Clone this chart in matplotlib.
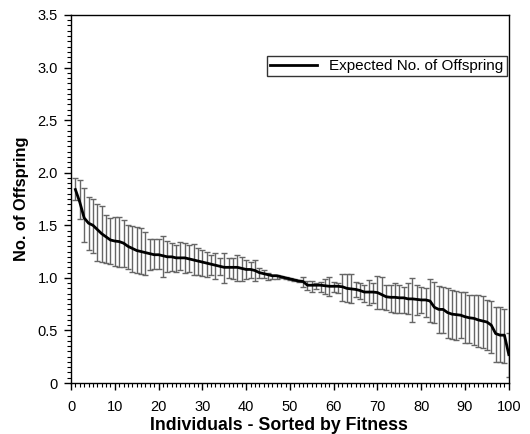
import numpy as np
import matplotlib.pyplot as plt
from matplotlib.ticker import MultipleLocator, FuncFormatter

plt.rcParams['font.family'] = ['Liberation Sans', 'DejaVu Sans']

# individuals 1..100 sorted by fitness
individual = np.arange(1, 101)

expected = [1.84, 1.72, 1.57, 1.52, 1.50, 1.46, 1.42, 1.39, 1.36, 1.35,
            1.345, 1.33, 1.30, 1.28, 1.26, 1.25, 1.24, 1.23, 1.22, 1.22,
            1.21, 1.20, 1.20, 1.19, 1.19, 1.19, 1.18, 1.17, 1.16, 1.15,
            1.14, 1.13, 1.12, 1.11, 1.10, 1.10, 1.10, 1.10, 1.09, 1.08,
            1.08, 1.07, 1.05, 1.04, 1.03, 1.02, 1.02, 1.01, 1.00, 0.99,
            0.98, 0.97, 0.965, 0.93, 0.93, 0.93, 0.93, 0.925, 0.92, 0.92,
            0.92, 0.915, 0.90, 0.895, 0.89, 0.88, 0.865, 0.865, 0.865, 0.86,
            0.84, 0.82, 0.815, 0.815, 0.81, 0.81, 0.80, 0.80, 0.795, 0.79,
            0.79, 0.78, 0.72, 0.70, 0.70, 0.67, 0.655, 0.65, 0.645, 0.63,
            0.62, 0.615, 0.60, 0.59, 0.58, 0.55, 0.47, 0.455, 0.455, 0.27]

upper = [1.95, 1.93, 1.85, 1.77, 1.75, 1.70, 1.68, 1.60, 1.57, 1.58,
         1.58, 1.55, 1.50, 1.49, 1.48, 1.47, 1.44, 1.37, 1.37, 1.37,
         1.40, 1.35, 1.33, 1.31, 1.345, 1.33, 1.31, 1.32, 1.28, 1.265,
         1.25, 1.22, 1.24, 1.19, 1.24, 1.19, 1.19, 1.22, 1.20, 1.17,
         1.15, 1.17, 1.09, 1.07, 1.045, 1.03, 1.03, 1.02, 1.01, 1.00,
         0.99, 0.98, 1.01, 0.974, 0.97, 0.95, 0.965, 0.99, 1.01, 0.965,
         0.955, 1.037, 1.037, 1.037, 0.965, 0.955, 0.932, 0.98, 0.948, 1.02,
         1.01, 0.932, 0.932, 0.955, 0.932, 0.917, 0.955, 0.996, 0.932, 0.917,
         0.90, 0.986, 0.964, 0.923, 0.917, 0.90, 0.885, 0.879, 0.869, 0.869,
         0.837, 0.837, 0.837, 0.828, 0.79, 0.784, 0.72, 0.72, 0.70, 0.48]

lower = [1.74, 1.56, 1.345, 1.265, 1.24, 1.16, 1.15, 1.145, 1.13, 1.11,
         1.10, 1.10, 1.08, 1.06, 1.05, 1.04, 1.03, 1.075, 1.08, 1.08,
         1.005, 1.06, 1.065, 1.06, 1.075, 1.05, 1.053, 1.028, 1.028, 1.02,
         1.01, 1.028, 0.987, 1.028, 0.948, 0.996, 0.99, 0.974, 0.97, 0.987,
         0.996, 0.97, 1.00, 1.00, 0.98, 0.99, 0.99, 1.00, 0.99, 0.98,
         0.97, 0.96, 0.917, 0.885, 0.87, 0.89, 0.869, 0.847, 0.83, 0.869,
         0.86, 0.78, 0.774, 0.758, 0.815, 0.796, 0.774, 0.742, 0.764, 0.70,
         0.70, 0.694, 0.679, 0.669, 0.663, 0.663, 0.657, 0.584, 0.647, 0.663,
         0.625, 0.584, 0.574, 0.472, 0.472, 0.425, 0.415, 0.409, 0.425, 0.384,
         0.384, 0.361, 0.345, 0.33, 0.314, 0.282, 0.203, 0.203, 0.194, 0.06]

expected = np.array(expected)
yerr = [expected - np.array(lower), np.array(upper) - expected]

fig = plt.figure(figsize=(5.3, 4.34), dpi=100)
ax = fig.add_axes([0.134, 0.1175, 0.826, 0.848])

eb = ax.errorbar(individual, expected, yerr=yerr, fmt='none',
                 ecolor='#666666', elinewidth=1.0, capsize=2.0,
                 capthick=1.0, zorder=2)
for cap in eb[1]:
    cap.set_color('#111111')

ax.plot(individual, expected, color='black', lw=2.0, zorder=3,
        label='Expected No. of Offspring')

ax.set_xlim(0, 100)
ax.set_ylim(0, 3.5)
ax.xaxis.set_major_locator(MultipleLocator(10))
ax.xaxis.set_minor_locator(MultipleLocator(1))
ax.yaxis.set_major_locator(MultipleLocator(0.5))
ax.yaxis.set_minor_locator(MultipleLocator(0.05))
ax.yaxis.set_major_formatter(FuncFormatter(lambda v, p: '0' if v == 0 else '%.1f' % v))
ax.tick_params(which='major', direction='out', length=5, width=1, labelsize=10.5)
ax.tick_params(axis='x', which='major', pad=7)
ax.tick_params(axis='y', which='major', pad=4.5)
ax.tick_params(which='minor', direction='out', length=3, width=0.8)
for s in ax.spines.values():
    s.set_linewidth(1.0)

ax.set_xlabel('Individuals - Sorted by Fitness', fontsize=12.8, fontweight='bold')
ax.xaxis.set_label_coords(0.475, -0.093)
ax.set_ylabel('No. of Offspring', fontsize=11.8, fontweight='bold')
ax.yaxis.set_label_coords(-0.095, 0.5)

leg = ax.legend(loc='upper right', bbox_to_anchor=(0.995, 0.889), fontsize=11,
                fancybox=False, framealpha=1, borderpad=0.2, handlelength=3.1,
                handletextpad=0.8, borderaxespad=0)
leg.get_frame().set_edgecolor('#333333')
leg.get_frame().set_linewidth(1.0)

fig.savefig('out.png', dpi=100)
